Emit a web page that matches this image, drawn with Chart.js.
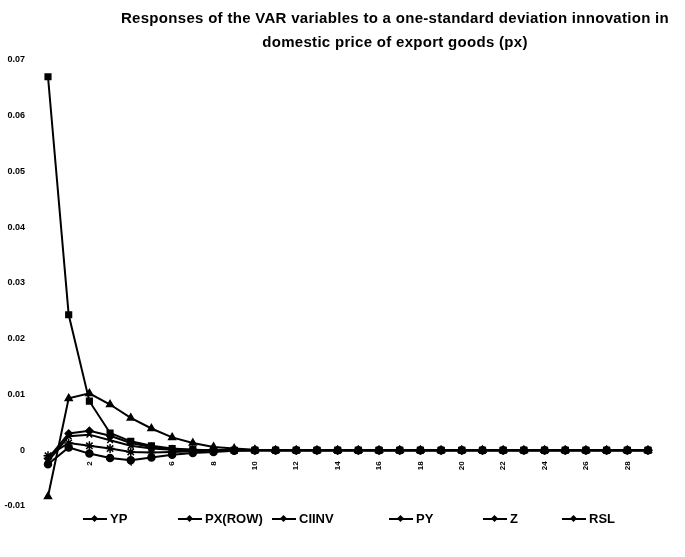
<!DOCTYPE html>
<html>
<head>
<meta charset="utf-8">
<title>VAR impulse responses</title>
<script src="https://cdn.jsdelivr.net/npm/chart.js@4.4.1/dist/chart.umd.min.js"></script>
<style>
  body { margin: 0; background: #fff; }
  .wrap { position: relative; width: 685px; height: 557px; font-family: "Liberation Sans", Arial, sans-serif; }
  .title {
    position: absolute; left: 100px; top: 6px; width: 590px;
    text-align: center; font-weight: bold; font-size: 15px; letter-spacing: 0.3px; line-height: 24px; color: #000;
  }
  .legend { position: absolute; left: 0; top: 509px; width: 685px; height: 20px; }
  .item { position: absolute; top: 0; height: 20px; font-weight: bold; font-size: 13px; line-height: 20px; color: #000; white-space: nowrap; }
  .item .swatch { display: inline-block; position: relative; width: 24px; height: 20px; vertical-align: top; margin-right: 3px; }
  .item .swatch::before { content: ""; position: absolute; left: 0; right: 0; top: 9px; border-top: 2px solid #000; }
  .item .swatch i { position: absolute; left: 9px; top: 7px; width: 5px; height: 5px; background: #000; transform: rotate(45deg); }
</style>
</head>
<body>
<div class="wrap">
  <canvas id="chart" width="685" height="557"></canvas>
  <div class="title">Responses of the VAR variables to a one-standard deviation innovation in<br>domestic price of export goods (px)</div>
  <div class="legend" id="legend"></div>
</div>
<script>
// periods 0..29
const periods = ['0', '1', '2', '3', '4', '5', '6', '7', '8', '9',
  '10', '11', '12', '13', '14', '15', '16', '17', '18', '19',
  '20', '21', '22', '23', '24', '25', '26', '27', '28', '29'];

const seriesNames = ['YP', 'PX(ROW)', 'CIINV', 'PY', 'Z', 'RSL'];

const yp = [-0.0015, 0.0030, 0.0035, 0.0026, 0.0013, 0.0006, 0.0002, 0.0001, 0, 0,
  0, 0, 0, 0, 0, 0, 0, 0, 0, 0, 0, 0, 0, 0, 0, 0, 0, 0, 0, 0];
const pxRow = [0.0670, 0.0243, 0.0088, 0.0031, 0.0016, 0.0008, 0.0003, 0.0001, 0, 0,
  0, 0, 0, 0, 0, 0, 0, 0, 0, 0, 0, 0, 0, 0, 0, 0, 0, 0, 0, 0];
const ciinv = [-0.0083, 0.0093, 0.0102, 0.0082, 0.0058, 0.0039, 0.0023, 0.0013, 0.0006, 0.0003,
  0.0001, 0, 0, 0, 0, 0, 0, 0, 0, 0, 0, 0, 0, 0, 0, 0, 0, 0, 0, 0];
const py = [-0.0020, 0.0025, 0.0028, 0.0018, 0.0008, 0.0003, 0.0001, 0, 0, 0,
  0, 0, 0, 0, 0, 0, 0, 0, 0, 0, 0, 0, 0, 0, 0, 0, 0, 0, 0, 0];
const z = [-0.0010, 0.0013, 0.0008, 0.0003, -0.0003, -0.0004, -0.0003, -0.0002, -0.0001, 0,
  0, 0, 0, 0, 0, 0, 0, 0, 0, 0, 0, 0, 0, 0, 0, 0, 0, 0, 0, 0];
const rsl = [-0.0025, 0.0005, -0.0006, -0.0014, -0.0018, -0.0013, -0.0008, -0.0005, -0.0003, -0.0001,
  0, 0, 0, 0, 0, 0, 0, 0, 0, 0, 0, 0, 0, 0, 0, 0, 0, 0, 0, 0];

const yMin = -0.01, yMax = 0.07, yStep = 0.01;

const seriesData = [yp, pxRow, ciinv, py, z, rsl];
const markers = ['rectRot', 'rect', 'triangle', 'crossRot', 'star', 'circle'];
const markerSize = [3.5, 4, 4, 4, 4.5, 3.5];

const datasets = seriesNames.map((name, i) => ({
  label: name,
  data: seriesData[i],
  borderColor: '#000',
  backgroundColor: '#000',
  borderWidth: 2,
  pointStyle: markers[i],
  pointRadius: markerSize[i],
  pointBorderWidth: 1.5,
  tension: 0
}));

new Chart(document.getElementById('chart'), {
  type: 'line',
  data: { labels: periods, datasets: datasets },
  options: {
    responsive: false,
    animation: false,
    devicePixelRatio: 1,
    layout: { padding: { left: 0, right: 37, top: 60, bottom: 51 } },
    plugins: {
      legend: { display: false },
      title: { display: false },
      tooltip: { enabled: false }
    },
    scales: {
      x: {
        type: 'category',
        position: { y: 0 },
        grid: { display: false, drawTicks: false },
        border: { display: false },
        ticks: {
          autoSkip: false,
          minRotation: 90,
          maxRotation: 90,
          padding: 11,
          color: '#000',
          font: { size: 8, weight: 'bold', family: '"Liberation Sans", Arial' },
          callback: (v, i) => (i % 2 === 0 ? periods[i] : '')
        }
      },
      y: {
        min: yMin,
        max: yMax,
        grid: { display: false, drawTicks: false },
        border: { display: false },
        afterFit: s => { s.width = 48; },
        ticks: {
          stepSize: yStep,
          padding: 23,
          color: '#000',
          font: { size: 9, weight: 'bold', family: '"Liberation Sans", Arial' },
          callback: v => (Math.abs(v) < 1e-9 ? '0' : v.toFixed(2))
        }
      }
    }
  }
});

// legend below the plot, laid out like the original
const legendX = [83, 178, 272, 389, 483, 562];
const legendBox = document.getElementById('legend');
seriesNames.forEach((name, i) => {
  const item = document.createElement('div');
  item.className = 'item';
  item.style.left = legendX[i] + 'px';
  item.innerHTML = `<span class="swatch"><i></i></span>${name}`;
  legendBox.appendChild(item);
});
</script>
</body>
</html>
